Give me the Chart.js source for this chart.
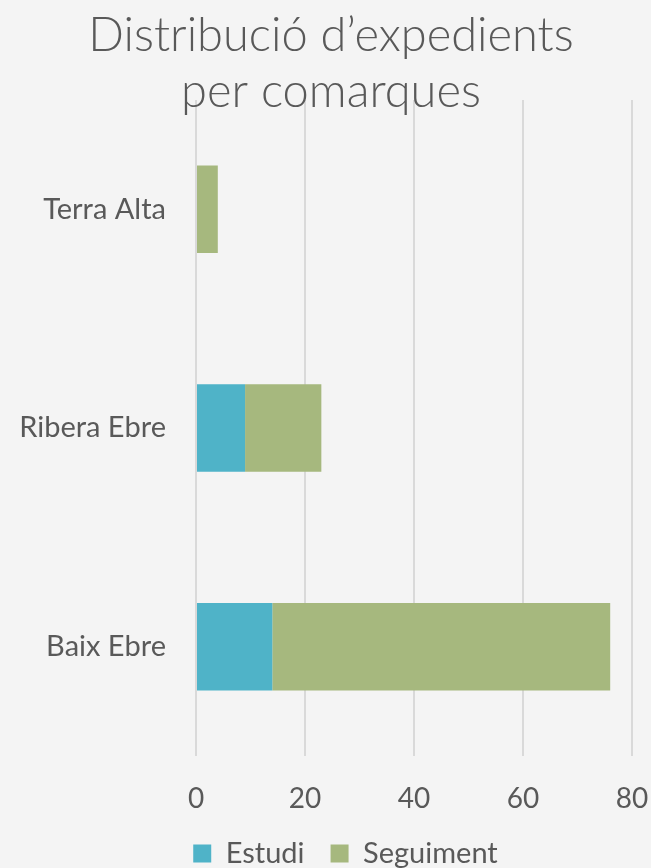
<!DOCTYPE html>
<html>
<head>
<meta charset="utf-8">
<script src="https://cdn.jsdelivr.net/npm/chart.js@4"></script>
<style>
  html, body { margin: 0; padding: 0; background: #f4f4f4; }
  #wrap { width: 651px; height: 868px; }
</style>
</head>
<body>
<div id="wrap"><canvas id="c"></canvas></div>
<script>
const comarques = ["Terra Alta", "Ribera Ebre", "Baix Ebre"];
const estudi = [0, 9, 14];
const seguiment = [4, 14, 62];
const xTicks = [0, 20, 40, 60, 80];
const titol = ["Distribució d\u2019expedients", "per comarques"];

const textColor = "#595959";
const fontFam = "Lato, 'Open Sans', sans-serif";

// Titol dibuixat a sobre (se solapa amb la quadricula com a l'original)
const titlePlugin = {
  id: "titolSobre",
  afterLayout(chart) {
    // la llegenda de l'original esta centrada una mica a la dreta
    if (chart.legend) {
      chart.legend.left += 21;
      chart.legend.right += 21;
    }
  },
  afterDraw(chart) {
    const ctx = chart.ctx;
    ctx.save();
    ctx.font = "300 47px " + fontFam;
    ctx.fillStyle = textColor;
    ctx.textAlign = "center";
    ctx.textBaseline = "alphabetic";
    ctx.fillText(titol[0], 331, 51);
    ctx.fillText(titol[1], 331, 107);
    ctx.restore();
  }
};

new Chart(document.getElementById("c"), {
  type: "bar",
  data: {
    labels: comarques,
    datasets: [
      { label: "Estudi", data: estudi, backgroundColor: "#4fb3c8" },
      { label: "Seguiment", data: seguiment, backgroundColor: "#a6b87e" }
    ]
  },
  plugins: [titlePlugin],
  options: {
    indexAxis: "y",
    responsive: true,
    maintainAspectRatio: false,
    animation: false,
    layout: { padding: { top: 100, right: 2, left: 0, bottom: -10 } },
    datasets: { bar: { barPercentage: 0.8, categoryPercentage: 0.5 } },
    plugins: {
      title: { display: false },
      tooltip: { enabled: false },
      legend: {
        position: "bottom",
        labels: {
          color: textColor,
          font: { family: fontFam, size: 29 },
          boxWidth: 18,
          boxHeight: 18,
          padding: 26
        }
      }
    },
    scales: {
      x: {
        stacked: true,
        min: 0,
        max: 80,
        afterBuildTicks(axis) { axis.ticks = xTicks.map(v => ({ value: v })); },
        afterFit(axis) {
          axis.height = 57;
          axis.paddingLeft = 0;
          axis.paddingRight = 19;
        },
        grid: { color: "#d9d9d9", lineWidth: 2, drawTicks: false },
        border: { display: false },
        ticks: { color: textColor, font: { family: fontFam, size: 28 }, padding: 26 }
      },
      y: {
        stacked: true,
        grid: { display: false },
        border: { display: false },
        afterFit(axis) { axis.width = 196; },
        ticks: { color: textColor, font: { family: fontFam, size: 29 }, padding: 22 }
      }
    }
  }
});
</script>
</body>
</html>
